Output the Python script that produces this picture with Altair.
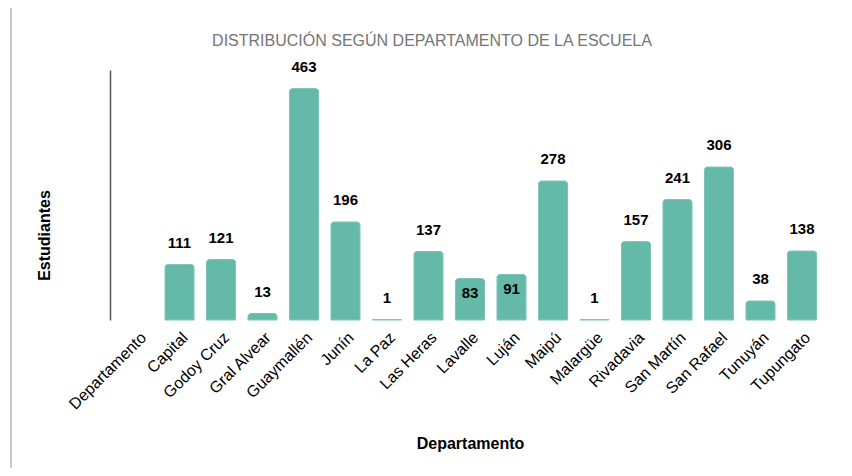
import altair as alt
import pandas as pd

categories = ["Departamento", "Capital", "Godoy Cruz", "Gral Alvear", "Guaymallén", "Junín",
              "La Paz", "Las Heras", "Lavalle", "Luján", "Maipú", "Malargüe", "Rivadavia",
              "San Martín", "San Rafael", "Tunuyán", "Tupungato"]
estudiantes = [None, 111, 121, 13, 463, 196, 1, 137, 83, 91, 278, 1, 157, 241, 306, 38, 138]
inside_labels = ["Lavalle", "Luján"]

df = pd.DataFrame({"Departamento": categories, "Estudiantes": estudiantes})

FONT = "Liberation Sans"
BAR = "#64b9a8"
xscale = alt.Scale(domain=categories, paddingInner=0.3, paddingOuter=0.325)

x = alt.X("Departamento:N", scale=xscale,
          axis=alt.Axis(title="Departamento", labelAngle=-45, labelFontSize=16,
                        labelColor="#000000", labelFont=FONT, ticks=False, domain=False,
                        labelPadding=9,
                        titleFont=FONT, titleFontSize=16, titleFontWeight="bold",
                        titleColor="#000000", titleY=123, titleBaseline="middle"))
y = alt.Y("Estudiantes:Q",
          scale=alt.Scale(domain=[0, 500], nice=False),
          axis=alt.Axis(title="Estudiantes", labels=False, ticks=False, grid=False,
                        domainColor="#555555", domainWidth=1.5,
                        titleFont=FONT, titleFontSize=16, titleFontWeight="bold",
                        titleColor="#000000", titleAngle=270, titleX=-66, titleY=165,
                        titleAlign="center", titleBaseline="middle"))

base = alt.Chart(df)

bars = base.mark_bar(color=BAR, stroke="#7cc4b5", strokeWidth=1,
                     cornerRadiusTopLeft=3, cornerRadiusTopRight=3).encode(
    x=x, y=y).transform_filter("isValid(datum.Estudiantes)")

labels_out = base.mark_text(font=FONT, fontSize=15, fontWeight="bold", color="#000000",
                            baseline="alphabetic", dy=-17).encode(
    x=alt.X("Departamento:N", scale=xscale),
    y="Estudiantes:Q", text="Estudiantes:Q").transform_filter(
    "isValid(datum.Estudiantes)").transform_filter(
    ~alt.FieldOneOfPredicate(field="Departamento", oneOf=inside_labels))

labels_in = base.mark_text(font=FONT, fontSize=15, fontWeight="bold", color="#000000",
                           baseline="alphabetic", dy=19).encode(
    x=alt.X("Departamento:N", scale=xscale),
    y="Estudiantes:Q", text="Estudiantes:Q").transform_filter(
    alt.FieldOneOfPredicate(field="Departamento", oneOf=inside_labels))

frame = alt.Chart(pd.DataFrame({"a": [0]})).mark_rule(color="#b8b8b8", strokeWidth=1.5).encode(
    x=alt.value(-99), y=alt.value(-62), y2=alt.value(420))

chart = alt.layer(frame, bars, labels_out, labels_in).properties(
    width=720, height=250,
    background="white",
    autosize=alt.AutoSizeParams(type="none"),
    padding={"left": 102, "top": 62, "right": 14, "bottom": 148},
    title=alt.TitleParams("DISTRIBUCIÓN SEGÚN DEPARTAMENTO DE LA ESCUELA", font=FONT,
                          fontSize=16, fontWeight="normal", color="#757575",
                          anchor="middle", frame="group", dx=-38, offset=0, dy=55,
                          baseline="alphabetic")
).configure_view(stroke=None, strokeWidth=0)

chart.save("out.html", embed_options={"renderer": "svg", "actions": False})
